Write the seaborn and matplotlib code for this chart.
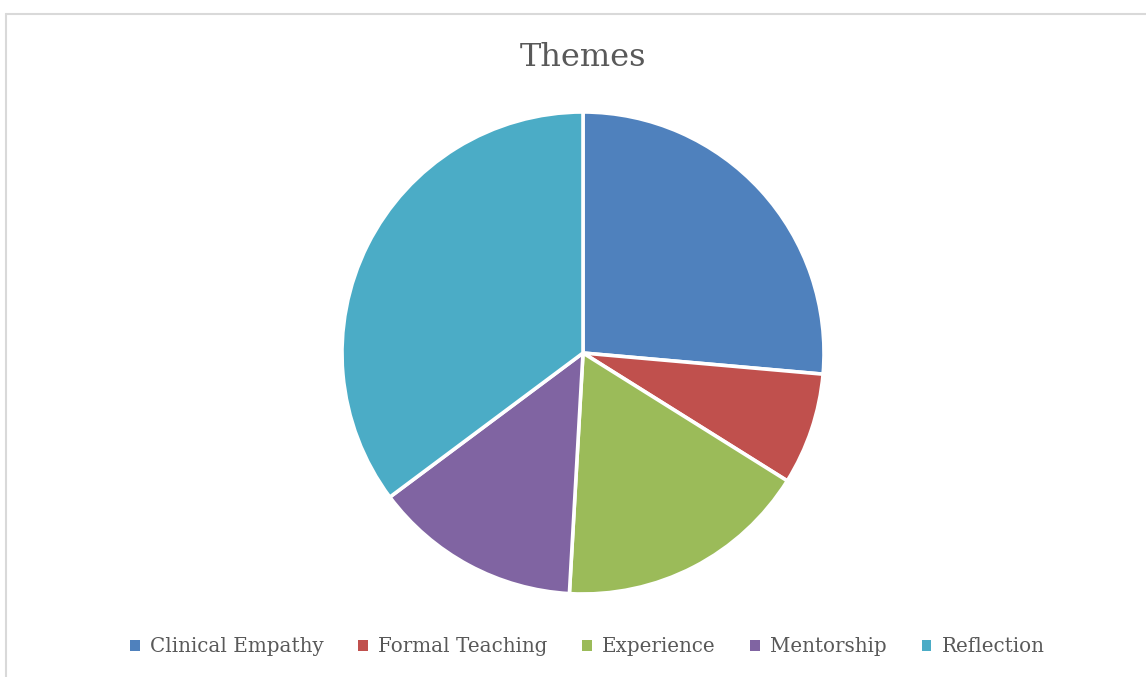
import matplotlib
matplotlib.use("Agg")
import matplotlib.pyplot as plt
import seaborn as sns
from matplotlib.lines import Line2D
from matplotlib.patches import Patch

sns.set_theme(style="white")
plt.rcParams["font.family"] = ["DejaVu Serif"]

themes = ["Clinical Empathy", "Formal Teaching", "Experience", "Mentorship", "Reflection"]
shares = [26.4, 7.5, 17.0, 13.9, 35.2]
colors = ["#4F81BD", "#C0504D", "#9BBB59", "#8064A2", "#4BACC6"]
text_color = "#595959"

fig = plt.figure(figsize=(11.46, 6.77), dpi=100)
fig.patch.set_facecolor("white")

# chart area frame (top and left edges visible)
fig.add_artist(Line2D([6 / 1146, 6 / 1146], [0, 1 - 14 / 677], transform=fig.transFigure,
                      color="#D9D9D9", lw=1.5))
fig.add_artist(Line2D([6 / 1146, 1], [1 - 14 / 677, 1 - 14 / 677], transform=fig.transFigure,
                      color="#D9D9D9", lw=1.5))

ax = fig.add_axes([342 / 1146, 83 / 677, 482 / 1146, 482 / 677])
wedges, _ = ax.pie(shares, colors=colors, startangle=90, counterclock=False,
                   radius=1.0, wedgeprops=dict(edgecolor="white", linewidth=2.6))
ax.set_xlim(-1.0, 1.0)
ax.set_ylim(-1.0, 1.0)
ax.set_aspect("equal")
ax.axis("off")

fig.text(583 / 1146, 1 - 57 / 677, "Themes", ha="center", va="center",
         fontsize=23, color=text_color)

handles = [Patch(facecolor=c, edgecolor="none") for c in colors]
fig.legend(handles, themes, loc="center", bbox_to_anchor=(587 / 1146, 1 - 647 / 677),
           ncol=5, frameon=False, fontsize=14.3, labelcolor=text_color,
           handlelength=0.5, handleheight=0.5, handletextpad=0.5, columnspacing=1.75)

fig.savefig("out.png", dpi=100, facecolor="white")
